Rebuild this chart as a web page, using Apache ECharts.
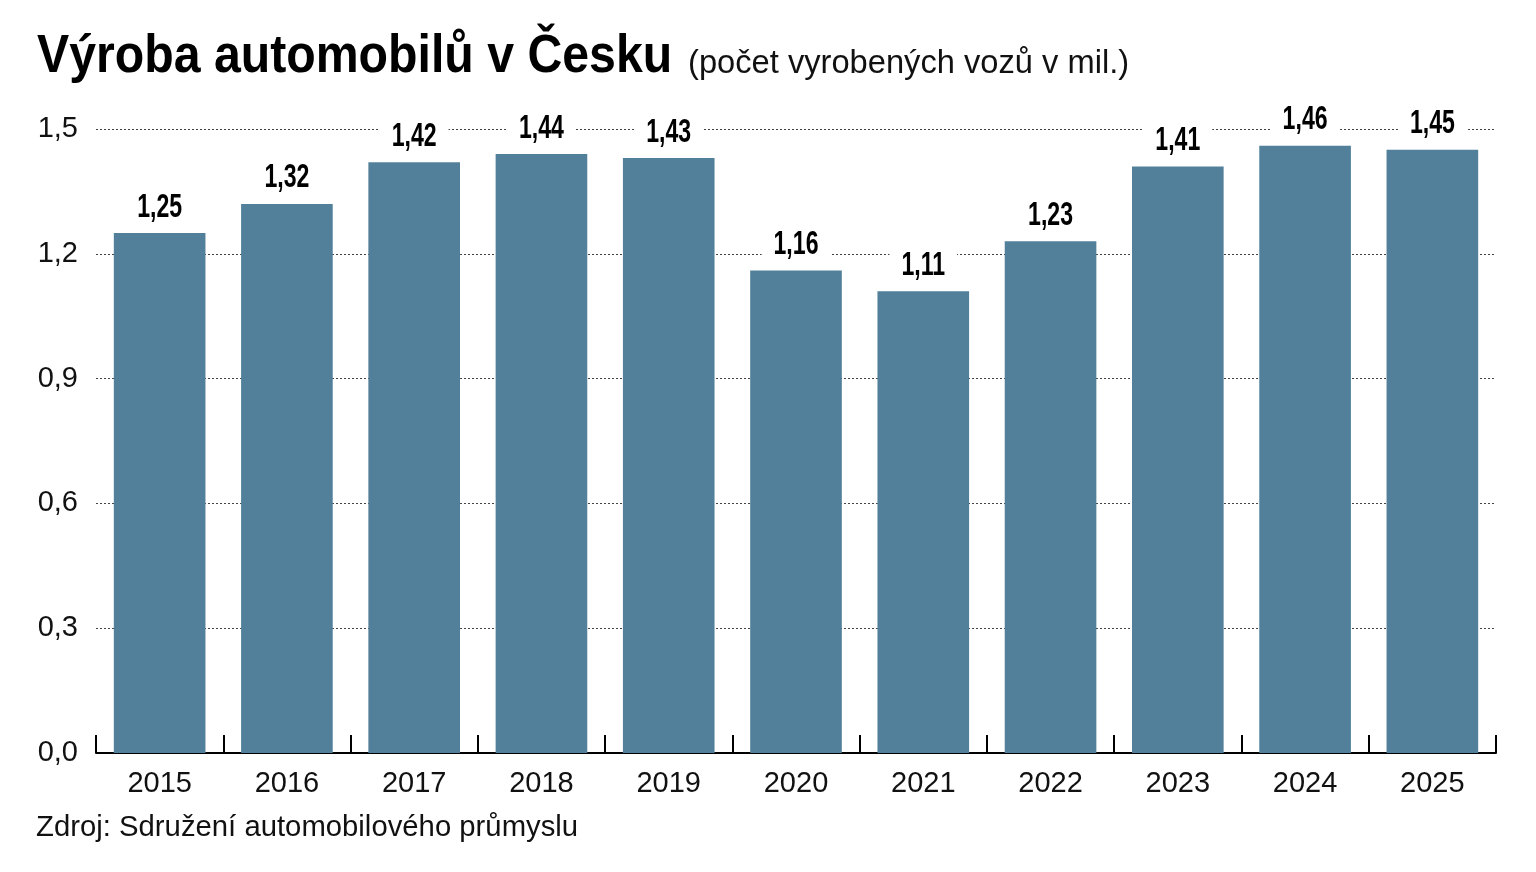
<!DOCTYPE html>
<html><head><meta charset="utf-8">
<script src="https://cdn.jsdelivr.net/npm/echarts@6/dist/echarts.min.js"></script>
<style>html,body{margin:0;padding:0;background:#fff}#c{width:1536px;height:872px}</style>
</head><body><div id="c"></div>
<script>
const years = ['2015','2016','2017','2018','2019','2020','2021','2022','2023','2024','2025'];
const production = [1.25, 1.32, 1.42, 1.44, 1.43, 1.16, 1.11, 1.23, 1.41, 1.46, 1.45];
const titleText = 'Výroba automobilů v Česku';
const subtitleText = '(počet vyrobených vozů v mil.)';
const sourceText = 'Zdroj: Sdružení automobilového průmyslu';

const FONT = '"Liberation Sans", Arial, sans-serif';
const fmt = v => v.toFixed(1).replace('.', ',');
const fmt2 = v => v.toFixed(2).replace('.', ',');

const chart = echarts.init(document.getElementById('c'));
chart.setOption({
  backgroundColor: '#fff',
  animation: false,
  graphic: [{
    type: 'text', left: 37, top: 31, scaleX: 0.91,
    style: { text: titleText, font: 'bold 53px ' + FONT, fill: '#000' }
  }, {
    type: 'text', left: 688, top: 47, scaleX: 0.99,
    style: { text: subtitleText, font: 'normal 33px ' + FONT, fill: '#111' }
  }, {
    type: 'text', left: 36, top: 813, scaleX: 1.01,
    style: { text: sourceText, font: 'normal 29px ' + FONT, fill: '#111' }
  }],
  grid: { left: 96, right: 40, top: 129, bottom: 119, containLabel: false },
  xAxis: {
    type: 'category',
    data: years,
    axisLine: { show: true, lineStyle: { color: '#000', width: 2 } },
    axisTick: { show: true, inside: true, length: 18, alignWithLabel: false, lineStyle: { color: '#000', width: 2 } },
    axisLabel: { margin: 16, fontFamily: FONT, fontSize: 29, color: '#111' }
  },
  yAxis: {
    type: 'value',
    min: 0, max: 1.5, interval: 0.3,
    axisLine: { show: false },
    axisTick: { show: false },
    axisLabel: { margin: 18, formatter: fmt, fontFamily: FONT, fontSize: 29, color: '#111' },
    splitLine: { show: true, lineStyle: { type: [2, 2], color: '#444', width: 1 } }
  },
  series: [{
    type: 'bar',
    data: production,
    barWidth: '72%',
    itemStyle: { color: '#52809A' }
  }, {
    type: 'custom',
    data: production.map((v, i) => [i, v]),
    encode: { x: 0, y: 1 },
    z: 5,
    renderItem: (params, api) => {
      const pt = api.coord([api.value(0), api.value(1)]);
      return {
        type: 'text',
        x: pt[0], y: pt[1] - 9,
        scaleX: 0.7,
        style: {
          text: fmt2(api.value(1)),
          x: 0, y: 0,
          align: 'center', verticalAlign: 'bottom',
          font: 'bold 33px ' + FONT, fill: '#000',
          backgroundColor: '#fff', padding: [0, 17, 0, 17]
        }
      };
    }
  }]
});
</script></body></html>
